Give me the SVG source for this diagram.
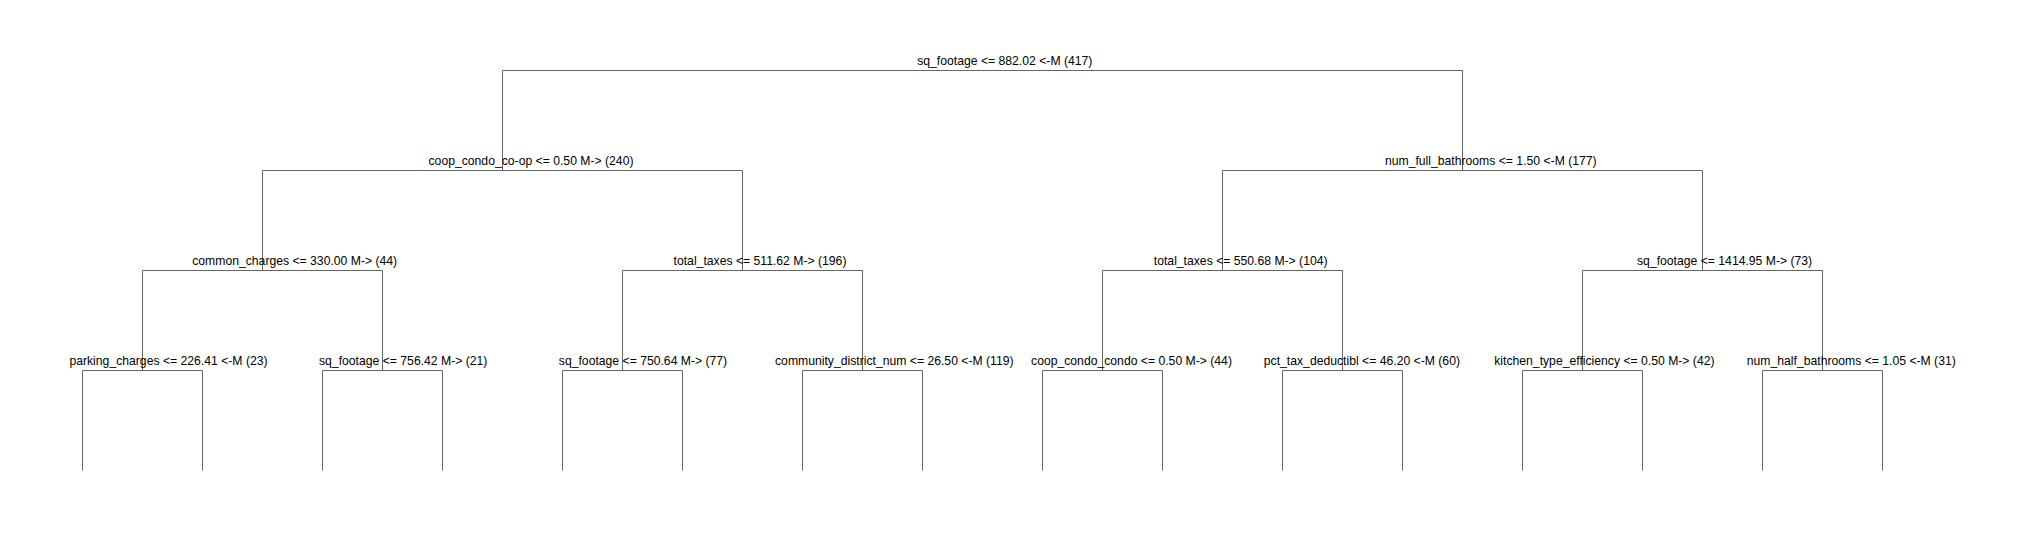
<svg xmlns="http://www.w3.org/2000/svg" width="2025" height="540" viewBox="0 0 2025 540">
<style>
.bg{fill:#ffffff}
.edge{fill:none;stroke:#666666;stroke-width:1}
.lbl{font-family:"Liberation Sans",Arial,sans-serif;font-size:12.2px;fill:#000000;text-anchor:middle}
</style>
<rect class="bg" x="0" y="0" width="2025" height="540"/>
<g id="connectors">
<path class="edge" d="M502.5 170.5V70.5H1462.5V170.5"/>
<path class="edge" d="M262.5 270.5V170.5H742.5V270.5"/>
<path class="edge" d="M1222.5 270.5V170.5H1702.5V270.5"/>
<path class="edge" d="M142.5 370.5V270.5H382.5V370.5"/>
<path class="edge" d="M622.5 370.5V270.5H862.5V370.5"/>
<path class="edge" d="M1102.5 370.5V270.5H1342.5V370.5"/>
<path class="edge" d="M1582.5 370.5V270.5H1822.5V370.5"/>
<path class="edge" d="M82.5 470.5V370.5H202.5V470.5"/>
<path class="edge" d="M322.5 470.5V370.5H442.5V470.5"/>
<path class="edge" d="M562.5 470.5V370.5H682.5V470.5"/>
<path class="edge" d="M802.5 470.5V370.5H922.5V470.5"/>
<path class="edge" d="M1042.5 470.5V370.5H1162.5V470.5"/>
<path class="edge" d="M1282.5 470.5V370.5H1402.5V470.5"/>
<path class="edge" d="M1522.5 470.5V370.5H1642.5V470.5"/>
<path class="edge" d="M1762.5 470.5V370.5H1882.5V470.5"/>
</g>
<g id="node-root"><text class="lbl" x="1004.8" y="65">sq_footage &lt;= 882.02 &lt;-M (417)</text></g>
<g id="node-L"><text class="lbl" x="531" y="165">coop_condo_co-op &lt;= 0.50 M-&gt; (240)</text></g>
<g id="node-R"><text class="lbl" x="1490.8" y="165">num_full_bathrooms &lt;= 1.50 &lt;-M (177)</text></g>
<g id="node-LL"><text class="lbl" x="294.7" y="265">common_charges &lt;= 330.00 M-&gt; (44)</text></g>
<g id="node-LR"><text class="lbl" x="760" y="265">total_taxes &lt;= 511.62 M-&gt; (196)</text></g>
<g id="node-RL"><text class="lbl" x="1240.7" y="265">total_taxes &lt;= 550.68 M-&gt; (104)</text></g>
<g id="node-RR"><text class="lbl" x="1724.6" y="265">sq_footage &lt;= 1414.95 M-&gt; (73)</text></g>
<g id="node-LLL"><text class="lbl" x="168.5" y="365">parking_charges &lt;= 226.41 &lt;-M (23)</text></g>
<g id="node-LLR"><text class="lbl" x="403.2" y="365">sq_footage &lt;= 756.42 M-&gt; (21)</text></g>
<g id="node-LRL"><text class="lbl" x="643" y="365">sq_footage &lt;= 750.64 M-&gt; (77)</text></g>
<g id="node-LRR"><text class="lbl" x="894.3" y="365">community_district_num &lt;= 26.50 &lt;-M (119)</text></g>
<g id="node-RLL"><text class="lbl" x="1131.5" y="365">coop_condo_condo &lt;= 0.50 M-&gt; (44)</text></g>
<g id="node-RLR"><text class="lbl" x="1361.9" y="365">pct_tax_deductibl &lt;= 46.20 &lt;-M (60)</text></g>
<g id="node-RRL"><text class="lbl" x="1604.4" y="365">kitchen_type_efficiency &lt;= 0.50 M-&gt; (42)</text></g>
<g id="node-RRR"><text class="lbl" x="1851.3" y="365">num_half_bathrooms &lt;= 1.05 &lt;-M (31)</text></g>
</svg>
